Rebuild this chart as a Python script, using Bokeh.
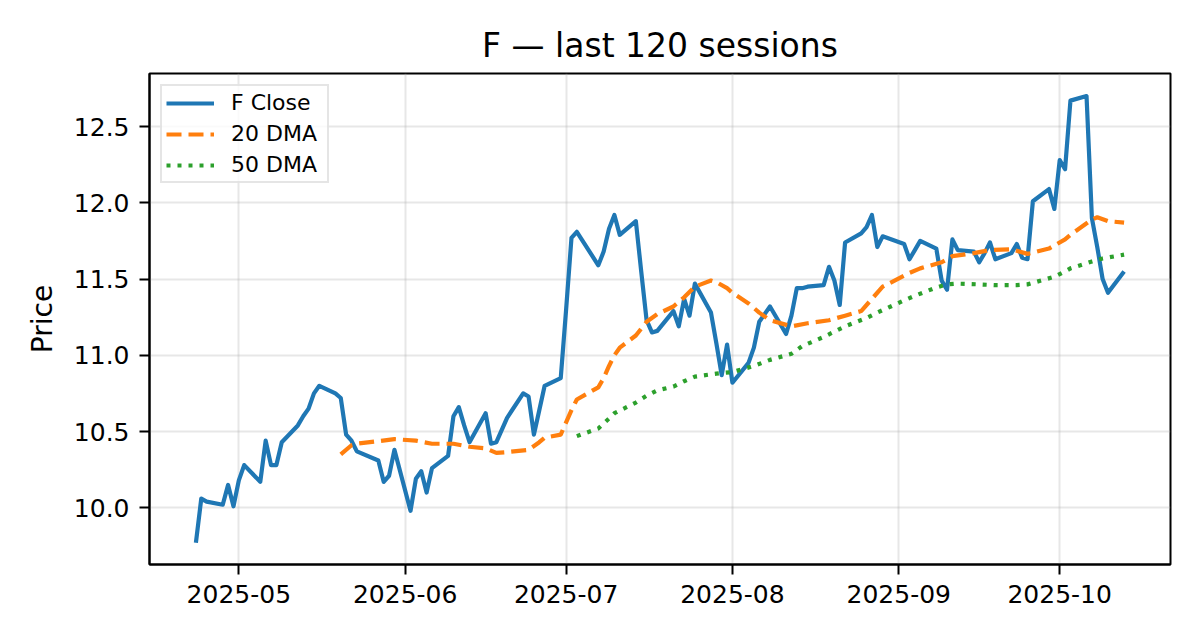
import pandas as pd
from bokeh.plotting import figure
from bokeh.models import ColumnDataSource, Range1d, FixedTicker, DatetimeTickFormatter, NumeralTickFormatter
from bokeh.embed import file_html
from bokeh.resources import INLINE

# ---------------- data ----------------
ticker = "F"
holidays = ["2025-05-26", "2025-06-19", "2025-07-04", "2025-09-01"]
first_session = "2025-04-23"
last_session = "2025-10-13"

close = [
    9.77, 10.06, 10.04, 10.02, 10.15, 10.01,
    10.18, 10.28, 10.17, 10.44, 10.28, 10.28, 10.43, 10.54, 10.60, 10.65, 10.75,
    10.80, 10.75, 10.72, 10.48, 10.44, 10.37, 10.31, 10.17, 10.21, 10.38,
    9.98, 10.19, 10.24, 10.10, 10.26, 10.34, 10.60, 10.66, 10.54, 10.43, 10.62,
    10.42, 10.43, 10.59, 10.75, 10.73, 10.48, 10.64, 10.80, 10.85,
    11.30, 11.77, 11.81, 11.59, 11.68, 11.83, 11.92, 11.79, 11.88, 11.55, 11.23,
    11.15, 11.16, 11.29, 11.19, 11.37, 11.26, 11.47, 11.28, 11.08, 10.87, 11.07,
    10.82, 10.95, 11.05, 11.22, 11.27, 11.32, 11.14, 11.26, 11.44, 11.44, 11.45,
    11.46, 11.58, 11.49, 11.33, 11.74, 11.80, 11.84, 11.92, 11.71, 11.78,
    11.73, 11.63, 11.69, 11.75, 11.70, 11.49, 11.43, 11.76, 11.69, 11.68, 11.61,
    11.67, 11.74, 11.63, 11.67, 11.73, 11.64, 11.63, 12.01, 12.09, 11.96,
    12.28, 12.22, 12.67, 12.70, 11.90, 11.71, 11.50, 11.41, 11.55,
]

dma20_dates = [
    "2025-05-20", "2025-05-22", "2025-05-23", "2025-05-30", "2025-06-03", "2025-06-06",
    "2025-06-10", "2025-06-13", "2025-06-16", "2025-06-18", "2025-06-20", "2025-06-24",
    "2025-06-26", "2025-06-27", "2025-06-30", "2025-07-01", "2025-07-02", "2025-07-03",
    "2025-07-07", "2025-07-08", "2025-07-09", "2025-07-10", "2025-07-11", "2025-07-14",
    "2025-07-16", "2025-07-18", "2025-07-21", "2025-07-23", "2025-07-25", "2025-07-28",
    "2025-07-29", "2025-07-31", "2025-08-01", "2025-08-04", "2025-08-06", "2025-08-08",
    "2025-08-12", "2025-08-15", "2025-08-19", "2025-08-22", "2025-08-25", "2025-08-27",
    "2025-08-29", "2025-09-03", "2025-09-05", "2025-09-09", "2025-09-11", "2025-09-15",
    "2025-09-18", "2025-09-22", "2025-09-25", "2025-09-29", "2025-09-30", "2025-10-02",
    "2025-10-03", "2025-10-07", "2025-10-08", "2025-10-10", "2025-10-13",
]
dma20 = [
    10.35, 10.41, 10.42, 10.45, 10.44, 10.42,
    10.42, 10.40, 10.39, 10.36, 10.365, 10.38,
    10.43, 10.46, 10.48, 10.56, 10.64, 10.71,
    10.79, 10.85, 10.93, 11.00, 11.05, 11.13,
    11.22, 11.27, 11.32, 11.38, 11.45, 11.49,
    11.48, 11.44, 11.41, 11.34, 11.28, 11.23,
    11.19, 11.21, 11.23, 11.26, 11.29, 11.37,
    11.45, 11.54, 11.57, 11.61, 11.65, 11.67,
    11.69, 11.695, 11.665, 11.70, 11.72, 11.76,
    11.79, 11.89, 11.905, 11.88, 11.87,
]

dma50_dates = [
    "2025-07-03", "2025-07-07", "2025-07-09", "2025-07-10", "2025-07-14", "2025-07-16",
    "2025-07-18", "2025-07-21", "2025-07-23", "2025-07-25", "2025-07-29", "2025-08-01",
    "2025-08-05", "2025-08-08", "2025-08-12", "2025-08-14", "2025-08-18", "2025-08-20",
    "2025-08-22", "2025-08-26", "2025-08-28", "2025-09-02", "2025-09-04", "2025-09-08",
    "2025-09-10", "2025-09-12", "2025-09-16", "2025-09-19", "2025-09-23", "2025-09-25",
    "2025-09-26", "2025-09-30", "2025-10-02", "2025-10-03", "2025-10-07", "2025-10-09",
    "2025-10-13",
]
dma50 = [
    10.47, 10.52, 10.585, 10.62, 10.69, 10.735,
    10.77, 10.795, 10.83, 10.86, 10.88, 10.89,
    10.93, 10.97, 11.01, 11.06, 11.12, 11.155,
    11.19, 11.245, 11.28, 11.36, 11.39, 11.445,
    11.465, 11.47, 11.465, 11.46, 11.46, 11.465,
    11.475, 11.515, 11.55, 11.57, 11.615, 11.635,
    11.66,
]

month_ticks = ["2025-05-01", "2025-06-01", "2025-07-01", "2025-08-01", "2025-09-01", "2025-10-01"]
price_ticks = [10.0, 10.5, 11.0, 11.5, 12.0, 12.5]

# ---------------- build ----------------
sessions = pd.bdate_range(first_session, last_session, freq="C", holidays=holidays)
n = min(len(sessions), len(close))
src_close = ColumnDataSource(dict(x=sessions[:n], y=close[:n]))
src_20 = ColumnDataSource(dict(x=pd.to_datetime(dma20_dates), y=dma20))
src_50 = ColumnDataSource(dict(x=pd.to_datetime(dma50_dates), y=dma50))

span = sessions[n - 1] - sessions[0]
x_start = sessions[0] - 0.05 * span
x_end = sessions[n - 1] + 0.05 * span

p = figure(
    width=1192, height=632,
    x_axis_type="datetime",
    x_range=Range1d(x_start, x_end),
    y_range=Range1d(9.628, 12.848),
    output_backend="svg", toolbar_location=None,
    min_border_left=149, min_border_right=22, min_border_top=73, min_border_bottom=68,
    title=f"{ticker} \u2014 last {len(close)} sessions",
)

FONT = "DejaVu Sans"
p.title.align = "center"
p.title.text_font = FONT
p.title.text_font_size = "33px"
p.title.text_font_style = "normal"
p.title.text_color = "black"
p.title.standoff = 17

p.line("x", "y", source=src_close, line_color="#1f77b4", line_width=4.2, legend_label=f"{ticker} Close",
       line_join="round")
p.line("x", "y", source=src_20, line_color="#ff7f0e", line_width=4.2, line_dash="15 7", legend_label="20 DMA")
p.line("x", "y", source=src_50, line_color="#2ca02c", line_width=4.2, line_dash="4 7", legend_label="50 DMA")

tick_ms = [pd.Timestamp(d).timestamp() * 1000 for d in month_ticks]
p.xaxis.ticker = FixedTicker(ticks=tick_ms)
fmt = "%Y-%m"
p.xaxis.formatter = DatetimeTickFormatter(days=fmt, months=fmt, years=fmt, hours=fmt, hourmin=fmt)
p.yaxis.ticker = FixedTicker(ticks=price_ticks)
p.yaxis.formatter = NumeralTickFormatter(format="0.0")
p.yaxis.axis_label = "Price"

for ax in (p.xaxis, p.yaxis):
    ax.major_label_text_font = FONT
    ax.major_label_text_font_size = "25px"
    ax.major_label_text_color = "black"
    ax.major_tick_out = 10
    ax.major_tick_in = 0
    ax.major_tick_line_width = 2
    ax.major_tick_line_color = "black"
    ax.minor_tick_out = 0
    ax.minor_tick_in = 0
    ax.axis_line_color = "black"
    ax.axis_line_width = 2
    ax.major_label_standoff = 10
    ax.axis_label_text_font = FONT
    ax.axis_label_text_font_size = "28px"
    ax.axis_label_text_font_style = "normal"
    ax.axis_label_text_color = "black"
    ax.axis_label_standoff = 12

p.outline_line_color = "black"
p.outline_line_width = 2
p.outline_line_alpha = 1

for g in (p.xgrid, p.ygrid):
    g.grid_line_color = "#b0b0b0"
    g.grid_line_alpha = 0.3
    g.grid_line_width = 2

lg = p.legend[0]
lg.location = "top_left"
lg.margin = 11
lg.padding = 4
lg.spacing = 6
lg.label_text_font = FONT
lg.label_text_font_size = "22px"
lg.label_text_color = "black"
lg.label_height = 22
lg.label_width = 92
lg.glyph_height = 22
lg.glyph_width = 48
lg.label_standoff = 17
lg.border_line_color = "#cccccc"
lg.border_line_width = 2
lg.background_fill_color = "white"
lg.background_fill_alpha = 0.8

open("out.html", "w").write(file_html(p, INLINE))
